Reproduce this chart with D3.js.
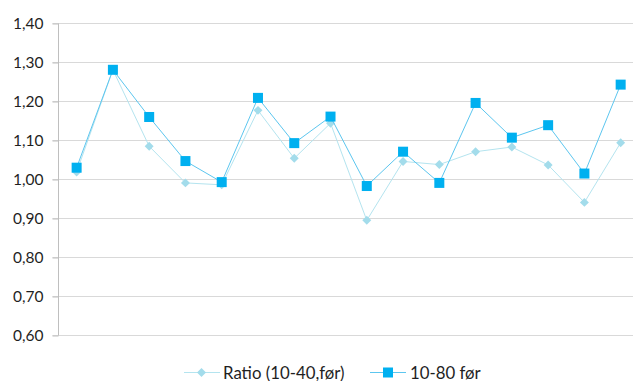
<!DOCTYPE html>
<html>
<head>
<meta charset="utf-8">
<script src="https://cdn.jsdelivr.net/npm/d3@7"></script>
<style>
  html, body { margin: 0; padding: 0; background: #fff; }
  svg { display: block; font-family: Lato, "Open Sans", sans-serif; }
</style>
</head>
<body>
<svg id="chart" width="633" height="381"></svg>
<script>
// Sixteen observations, two series
const categories = d3.range(1, 17).map(String);
const ratioValues = [1.018, 1.280, 1.084, 0.990, 0.985, 1.176, 1.053, 1.143,
                     0.894, 1.045, 1.037, 1.070, 1.082, 1.036, 0.940, 1.093];
const forValues   = [1.029, 1.280, 1.159, 1.046, 0.992, 1.208, 1.092, 1.160,
                     0.982, 1.070, 0.990, 1.195, 1.106, 1.138, 1.014, 1.242];
const seriesNames = ["Ratio (10-40,før)", "10-80 før"];
const yTicks = [0.60, 0.70, 0.80, 0.90, 1.00, 1.10, 1.20, 1.30, 1.40];

const svg = d3.select("#chart");
const plotLeft = 58.5, plotTop = 23, plotW = 580.3, plotH = 312;

const x = d3.scaleBand().domain(categories).range([plotLeft, plotLeft + plotW]);
const y = d3.scaleLinear().domain([0.60, 1.40]).range([plotTop + plotH, plotTop]);
const fmt = v => d3.format(".2f")(v).replace(".", ",");

// horizontal gridlines
svg.append("g")
  .selectAll("line").data(yTicks).join("line")
  .attr("x1", plotLeft - 6).attr("x2", plotLeft + plotW)
  .attr("y1", d => Math.round(y(d)) + 0.5).attr("y2", d => Math.round(y(d)) + 0.5)
  .attr("stroke", "#d9d9d9").attr("stroke-width", 1);

// y axis
const yAxis = d3.axisLeft(y).tickValues(yTicks).tickFormat(fmt).tickSize(6).tickPadding(9);
const ga = svg.append("g").attr("transform", `translate(${plotLeft},0.5)`).call(yAxis);
ga.select(".domain").attr("stroke", "#bfbfbf").attr("d", `M0,${y(1.40)}V${y(0.60)}`);
ga.selectAll(".tick line").attr("stroke", "#bfbfbf");
ga.selectAll(".tick text").attr("fill", "#1f1f1f").style("font-size", "15.5px")
  .style("font-family", "Lato, 'Open Sans', sans-serif");

const cx = (d, i) => x(categories[i]) + x.bandwidth() / 2;
// square rotated 45°: an even diamond marker
const diamond = d3.symbol(d3.symbolSquare, 40);

// Ratio series: thin pale line with diamonds
const line = d3.line().x(cx).y(d => y(d));
svg.append("path").datum(ratioValues)
  .attr("d", line).attr("fill", "none")
  .attr("stroke", "#b4e4ef").attr("stroke-width", 1);
svg.append("g").selectAll("path").data(ratioValues).join("path")
  .attr("d", diamond)
  .attr("transform", (d, i) => `translate(${cx(d, i)},${y(d)}) rotate(45)`)
  .attr("fill", "#a3dceb");

// 10-80 series: blue line with squares
svg.append("path").datum(forValues)
  .attr("d", line).attr("fill", "none")
  .attr("stroke", "#5cc6ef").attr("stroke-width", 1);
svg.append("g").selectAll("rect").data(forValues).join("rect")
  .attr("x", (d, i) => cx(d, i) - 5).attr("y", d => y(d) - 5)
  .attr("width", 10).attr("height", 10)
  .attr("fill", "#00b0f0");

// legend
const legY = 372.5;
const leg = svg.append("g");
leg.append("line").attr("x1", 184).attr("x2", 220).attr("y1", legY).attr("y2", legY)
  .attr("stroke", "#b4e4ef");
leg.append("path").attr("d", diamond)
  .attr("transform", `translate(201.5,${legY}) rotate(45)`).attr("fill", "#a3dceb");
leg.append("text").attr("x", 223).attr("y", legY + 6).text(seriesNames[0])
  .attr("fill", "#1f1f1f").style("font-size", "16.8px");
leg.append("line").attr("x1", 370).attr("x2", 406).attr("y1", legY).attr("y2", legY)
  .attr("stroke", "#5cc6ef");
leg.append("rect").attr("x", 383).attr("y", legY - 5).attr("width", 10).attr("height", 10)
  .attr("fill", "#00b0f0");
leg.append("text").attr("x", 410).attr("y", legY + 6).text(seriesNames[1])
  .attr("fill", "#1f1f1f").style("font-size", "16.8px");
</script>
</body>
</html>
